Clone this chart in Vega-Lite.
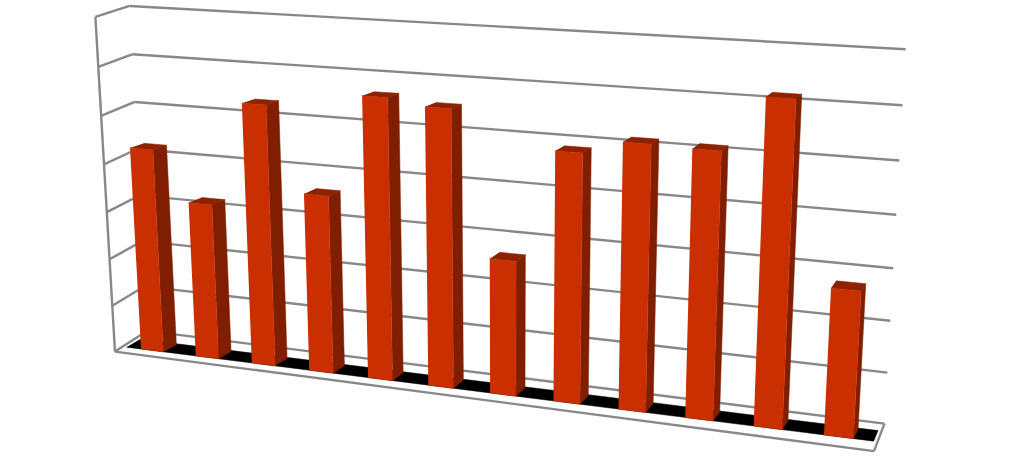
{
"$schema":"https://vega.github.io/schema/vega-lite/v6.json",
"width":1010,"height":456,"padding":0,
"autosize":{"type":"fit","contains":"padding"},
"config":{"view":{"stroke":null}},
"background":"white",
"datasets":{
"bars":[{"id":1,"value":4.30},{"id":2,"value":3.26},{"id":3,"value":5.39},{"id":4,"value":3.66},{"id":5,"value":5.70},{"id":6,"value":5.57},{"id":7,"value":2.71},{"id":8,"value":4.91},{"id":9,"value":5.17},{"id":10,"value":5.14},{"id":11,"value":6.17},{"id":12,"value":2.79}],
"levels":[{"id":0},{"id":1},{"id":2},{"id":3},{"id":4},{"id":5},{"id":6},{"id":7}],
"edges":[{"id":"left"},{"id":"front"},{"id":"right"}],
"floor":[{"id":"floor"}]
},
"encoding":{
"x":{"field":"px","type":"quantitative","axis":null,"scale":{"domain":[0,1010],"nice":false,"zero":false}},
"y":{"field":"py","type":"quantitative","axis":null,"scale":{"domain":[456,0],"nice":false,"zero":false}},
"order":{"field":"ord","type":"quantitative"},
"detail":{"field":"id","type":"nominal"}
},
"layer":[
{"data":{"name":"levels"},
"transform":[
{"calculate":"[-0.34,11.73]","as":"vX"},{"calculate":"[datum.id,datum.id]","as":"vY"},{"calculate":"[1.82,1.82]","as":"vZ"},{"calculate":"[0,1]","as":"ord"},
{"flatten":["vX","vY","vZ","ord"]},
{"calculate":"1-0.0117*datum.vX-0.00676*datum.vY+0.0131*datum.vZ","as":"W"},
{"calculate":"(141+52.45*datum.vX-3.434*datum.vY+15.327*datum.vZ)/datum.W","as":"px"},
{"calculate":"(349+2.94*datum.vX-47.76*datum.vY-4.323*datum.vZ)/datum.W","as":"py"}],
"mark":{"type":"line","stroke":"#888888","strokeWidth":2.4}},
{"data":{"name":"levels"},
"transform":[
{"calculate":"[-0.34,-0.34]","as":"vX"},{"calculate":"[datum.id,datum.id]","as":"vY"},{"calculate":"[-0.56,1.82]","as":"vZ"},{"calculate":"[0,1]","as":"ord"},
{"flatten":["vX","vY","vZ","ord"]},
{"calculate":"1-0.0117*datum.vX-0.00676*datum.vY+0.0131*datum.vZ","as":"W"},
{"calculate":"(141+52.45*datum.vX-3.434*datum.vY+15.327*datum.vZ)/datum.W","as":"px"},
{"calculate":"(349+2.94*datum.vX-47.76*datum.vY-4.323*datum.vZ)/datum.W","as":"py"}],
"mark":{"type":"line","stroke":"#888888","strokeWidth":2.4}},
{"data":{"name":"edges"},
"transform":[
{"calculate":"datum.id=='left'?[-0.34,-0.34]:datum.id=='front'?[-0.34,11.73]:[11.73,11.73]","as":"vX"},
{"calculate":"datum.id=='left'?[0,7]:[0,0]","as":"vY"},
{"calculate":"datum.id=='right'?[-0.56,1.82]:[-0.56,-0.56]","as":"vZ"},
{"calculate":"[0,1]","as":"ord"},
{"flatten":["vX","vY","vZ","ord"]},
{"calculate":"1-0.0117*datum.vX-0.00676*datum.vY+0.0131*datum.vZ","as":"W"},
{"calculate":"(141+52.45*datum.vX-3.434*datum.vY+15.327*datum.vZ)/datum.W","as":"px"},
{"calculate":"(349+2.94*datum.vX-47.76*datum.vY-4.323*datum.vZ)/datum.W","as":"py"}],
"mark":{"type":"line","stroke":"#888888","strokeWidth":2.4}},
{"data":{"name":"floor"},
"transform":[
{"calculate":"[-0.27,11.69,11.69,-0.27]","as":"vX"},{"calculate":"[0,0,0,0]","as":"vY"},{"calculate":"[0,0,1,1]","as":"vZ"},{"calculate":"[0,1,2,3]","as":"ord"},
{"flatten":["vX","vY","vZ","ord"]},
{"calculate":"1-0.0117*datum.vX-0.00676*datum.vY+0.0131*datum.vZ","as":"W"},
{"calculate":"(141+52.45*datum.vX-3.434*datum.vY+15.327*datum.vZ)/datum.W","as":"px"},
{"calculate":"(349+2.72*datum.vX-47.76*datum.vY-3.5*datum.vZ)/datum.W","as":"py"}],
"mark":{"type":"line","fill":"#000000","stroke":"#000000","strokeWidth":0.5}},
{"data":{"name":"bars"},
"transform":[
{"calculate":"datum.id-1+0.41","as":"R"},
{"calculate":"[datum.R,datum.R,datum.R,datum.R]","as":"vX"},{"calculate":"[0,0,datum.value,datum.value]","as":"vY"},{"calculate":"[0,1,1,0]","as":"vZ"},{"calculate":"[0,1,2,3]","as":"ord"},
{"flatten":["vX","vY","vZ","ord"]},
{"calculate":"1-0.0117*datum.vX-0.00676*datum.vY+0.0131*datum.vZ","as":"W"},
{"calculate":"(141+52.45*datum.vX-3.434*datum.vY+15.327*datum.vZ)/datum.W","as":"px"},
{"calculate":"(349+2.72*datum.vX-47.76*datum.vY-2.62*datum.vZ)/datum.W","as":"py"}],
"mark":{"type":"line","fill":"#7F1E00","stroke":"#7F1E00","strokeWidth":0.5}},
{"data":{"name":"bars"},
"transform":[
{"calculate":"datum.id-1","as":"L"},
{"calculate":"[datum.L,datum.L+0.41,datum.L+0.41,datum.L]","as":"vX"},{"calculate":"[datum.value,datum.value,datum.value,datum.value]","as":"vY"},{"calculate":"[0,0,1,1]","as":"vZ"},{"calculate":"[0,1,2,3]","as":"ord"},
{"flatten":["vX","vY","vZ","ord"]},
{"calculate":"1-0.0117*datum.vX-0.00676*datum.vY+0.0131*datum.vZ","as":"W"},
{"calculate":"(141+52.45*datum.vX-3.434*datum.vY+15.327*datum.vZ)/datum.W","as":"px"},
{"calculate":"(349+2.72*datum.vX-47.76*datum.vY-2.62*datum.vZ)/datum.W","as":"py"}],
"mark":{"type":"line","fill":"#8C2200","stroke":"#8C2200","strokeWidth":0.5}},
{"data":{"name":"bars"},
"transform":[
{"calculate":"datum.id-1","as":"L"},
{"calculate":"[datum.L,datum.L+0.41,datum.L+0.41,datum.L]","as":"vX"},{"calculate":"[0,0,datum.value,datum.value]","as":"vY"},{"calculate":"[0,0,0,0]","as":"vZ"},{"calculate":"[0,1,2,3]","as":"ord"},
{"flatten":["vX","vY","vZ","ord"]},
{"calculate":"1-0.0117*datum.vX-0.00676*datum.vY+0.0131*datum.vZ","as":"W"},
{"calculate":"(141+52.45*datum.vX-3.434*datum.vY+15.327*datum.vZ)/datum.W","as":"px"},
{"calculate":"(349+2.72*datum.vX-47.76*datum.vY-2.62*datum.vZ)/datum.W","as":"py"}],
"mark":{"type":"line","fill":"#C92F00","stroke":"#C92F00","strokeWidth":0.5}}
]
}
